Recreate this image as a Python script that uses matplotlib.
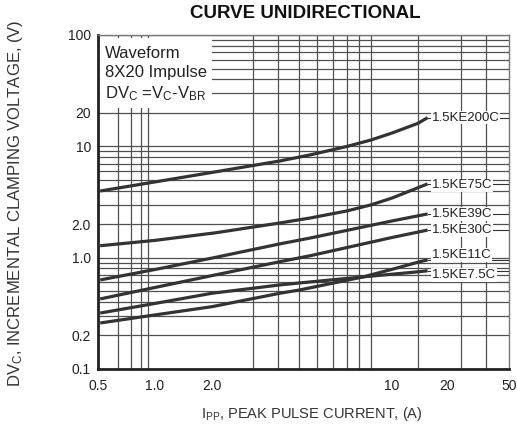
import numpy as np
import matplotlib
matplotlib.use('Agg')
import matplotlib.pyplot as plt
from matplotlib.patches import Rectangle
from matplotlib.ticker import FixedLocator, NullFormatter, LogLocator

plt.rcParams['font.family'] = ['Liberation Sans', 'DejaVu Sans']
plt.rcParams['mathtext.default'] = 'regular'

# ---- data ----
x_200 = [0.51, 1.0, 2.0, 4.08, 5.59, 8.0, 9.5, 10.05, 15.0, 16.5]
y_200 = [3.97, 4.79, 5.83, 7.39, 8.37, 9.98, 11.4, 13.2, 16.1, 18.1]

x_75 = [0.51, 1.0, 2.06, 4.08, 5.59, 8.0, 9.5, 10.05, 16.5]
y_75 = [1.28, 1.43, 1.67, 2.05, 2.27, 2.63, 2.98, 3.44, 4.60]

x_39 = [0.51, 1.0, 2.06, 4.08, 5.59, 10.05, 16.5]
y_39 = [0.631, 0.783, 1.004, 1.33, 1.50, 2.14, 2.47]

x_30 = [0.51, 1.0, 2.06, 4.08, 5.59, 10.05, 16.5]
y_30 = [0.426, 0.540, 0.699, 0.920, 1.04, 1.52, 1.77]

x_11 = [0.51, 1.0, 2.0, 4.08, 5.04, 9.16, 10.05, 15.3, 16.5]
y_11 = [0.259, 0.306, 0.363, 0.479, 0.513, 0.671, 0.787, 0.921, 0.955]

x_75c = [0.51, 1.0, 2.0, 4.08, 5.04, 9.16, 15.3, 16.5]
y_75c = [0.318, 0.388, 0.479, 0.569, 0.593, 0.672, 0.749, 0.763]

names = ['1.5KE200C', '1.5KE75C', '1.5KE39C', '1.5KE30C', '1.5KE11C', '1.5KE7.5C']
xs = [x_200, x_75, x_39, x_30, x_11, x_75c]
ys = [y_200, y_75, y_39, y_30, y_11, y_75c]
label_dy = [0, -1, 0, 0, 3.5, -3]   # points, keeps the two bottom labels apart

x_ticks = [0.5, 1.0, 2.0, 10, 20, 50]
x_ticklabels = ['0.5', '1.0', '2.0', '10', '20', '50']
y_ticks = [0.1, 0.2, 1.0, 2.0, 10, 20, 100]
y_ticklabels = ['0.1', '0.2', '1.0', '2.0', '10', '20', '100']

# the x axis of the original is hand ruled, not a clean log scale:
# value -> pixel column of the ruling
ruled_vals = [0.5, 0.6, 0.7, 0.8, 0.9, 1.0, 2.0, 3, 4, 5, 6, 7, 8, 9, 9.5, 10, 15, 20, 25, 35, 50]
ruled_px = [98, 118, 131, 141, 148, 155, 212, 253, 278, 299, 317, 333, 347, 359, 371, 392, 418, 447, 461, 486, 509]
x_grid = [0.6, 0.7, 0.8, 0.9, 1.0, 2.0, 3, 4, 5, 6, 7, 8, 9, 9.5, 10, 15, 25, 35]

lv = np.log10(ruled_vals)
fr = (np.array(ruled_px, float) - ruled_px[0]) / (ruled_px[-1] - ruled_px[0])
# extend both ends linearly so values just outside the range still map
s0 = (fr[1] - fr[0]) / (lv[1] - lv[0])
s1 = (fr[-1] - fr[-2]) / (lv[-1] - lv[-2])
lv = np.concatenate([[lv[0] - 10], lv, [lv[-1] + 10]])
fr = np.concatenate([[fr[0] - 10 * s0], fr, [fr[-1] + 10 * s1]])


def fwd(x):
    x = np.asarray(x, float)
    l = np.log10(np.where(x > 0, x, 1e-300))
    return np.interp(l, lv, fr)


def inv(f):
    f = np.asarray(f, float)
    return 10 ** np.interp(f, fr, lv)


fig = plt.figure(figsize=(5.17, 4.26), dpi=100)
ax = fig.add_axes([98 / 517, 1 - 369 / 426, 411 / 517, 334 / 426])

ax.set_xscale('function', functions=(fwd, inv))
ax.set_yscale('log')
ax.set_xlim(0.5, 50)
ax.set_ylim(0.1, 100)

line_c = '#333333'
for x, y, name, dy in zip(xs, ys, names, label_dy):
    ax.plot(x, y, color=line_c, lw=2.3, solid_capstyle='butt', solid_joinstyle='round', zorder=3)
    ax.plot([x[-1], 50], [y[-1], y[-1]], color=line_c, lw=0.8, zorder=3)
    ax.annotate(name, xy=(x[-1], y[-1]), xytext=(3, dy), textcoords='offset points',
                ha='left', va='center', fontsize=9.5, color='#222222', zorder=5,
                bbox=dict(boxstyle='square,pad=0.05', fc='white', ec='none'))

# ticks and grid
ax.xaxis.set_major_locator(FixedLocator(x_ticks))
ax.set_xticklabels(x_ticklabels)
ax.xaxis.set_minor_locator(FixedLocator(x_grid))
ax.xaxis.set_minor_formatter(NullFormatter())
ax.set_yticks(y_ticks)
ax.set_yticklabels(y_ticklabels)
ax.yaxis.set_minor_locator(LogLocator(base=10, subs=np.arange(2, 10)))
ax.yaxis.set_minor_formatter(NullFormatter())

ax.tick_params(which='both', length=0, labelsize=10, colors='#222222')
ax.tick_params(axis='x', pad=7)
ax.tick_params(axis='y', pad=5)

grid_c = '#505050'
ax.grid(True, which='minor', axis='x', color=grid_c, lw=0.9)
ax.grid(True, which='both', axis='y', color=grid_c, lw=0.9)
ax.set_axisbelow(True)

for s in ['left', 'bottom']:
    ax.spines[s].set_linewidth(2.0)
    ax.spines[s].set_color('#222222')
for s in ['top', 'right']:
    ax.spines[s].set_linewidth(1.0)
    ax.spines[s].set_color('#777777')

# white note box in the upper left corner
ax.add_patch(Rectangle((2 / 411, (369 - 108) / 334), 112 / 411, 70 / 334,
                       transform=ax.transAxes, fc='white', ec='none', zorder=4))
ax.text(7 / 411, (369 - 46) / 334, 'Waveform\n8X20 Impulse\nDV$_C$ =V$_C$-V$_{BR}$',
        transform=ax.transAxes, ha='left', va='top', fontsize=12, color='#222222',
        linespacing=1.32, zorder=6)

fig.text(305 / 517, 1 - 13 / 426, 'CURVE UNIDIRECTIONAL', ha='center', va='center',
         fontsize=13.5, fontweight='bold', color='#111111')
fig.text(312 / 517, 1 - 414 / 426, 'I$_{PP}$, PEAK PULSE CURRENT, (A)', ha='center',
         va='center', fontsize=10.5, color='#333333')
fig.text(16 / 517, 1 - 203 / 426, 'DV$_C$, INCREMENTAL CLAMPING VOLTAGE, (V)',
         rotation=90, ha='center', va='center', fontsize=12, color='#333333')

fig.savefig('out.png', dpi=100)
